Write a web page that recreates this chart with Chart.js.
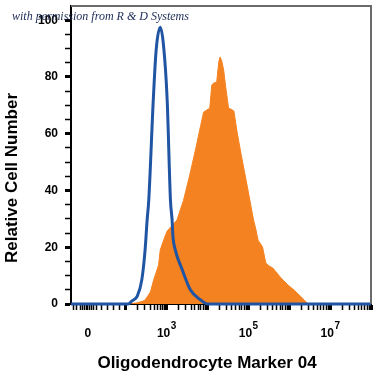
<!DOCTYPE html>
<html>
<head>
<meta charset="utf-8">
<script src="https://cdn.jsdelivr.net/npm/chart.js@4/dist/chart.umd.min.js"></script>
<style>
  html, body { margin: 0; padding: 0; background: #fff; }
  canvas { display: block; }
</style>
</head>
<body>
<canvas id="histo" width="375" height="375"></canvas>
<script>
// x values are in decade units (log10 of intensity), y is relative cell number
var isotypeX = [0.67, 2.07, 2.16, 2.29, 2.40, 2.48, 2.53, 2.57, 2.68, 2.75, 2.85, 2.93, 3.02, 3.10, 3.14, 3.16, 3.22, 3.39, 3.59, 3.84, 4.01, 8.0];
var isotypeY = [0, 0, 1.1, 2.8, 8.5, 19.0, 29.6, 36.6, 71.8, 89.4, 97.5, 91.2, 71.8, 36.6, 29.6, 24.0, 19.0, 12.0, 4.9, 1.4, 0, 0];

var o4X = [2.12, 2.26, 2.41, 2.48, 2.61, 2.69, 2.81, 2.85, 2.95, 3.02, 3.15, 3.26, 3.42, 3.57, 3.71, 3.84, 3.91, 3.98, 4.06, 4.11, 4.15, 4.23, 4.28, 4.31, 4.35, 4.40, 4.45, 4.52, 4.57, 4.65, 4.72, 4.82, 4.98, 5.13, 5.19, 5.24, 5.35, 5.43, 5.51, 5.60, 5.80, 5.97, 6.12, 6.27, 6.37, 6.46];
var o4Y = [0, 0.35, 0.9, 1.4, 4.2, 8.5, 13.7, 19.0, 23.2, 25.7, 27.8, 29.6, 36.6, 45.4, 54.2, 63.0, 67.6, 68.3, 69.0, 77.1, 77.8, 78.2, 85.2, 87.0, 85.9, 82.4, 76.4, 69.0, 68.7, 68.0, 61.3, 53.2, 41.2, 29.6, 26.1, 22.5, 20.1, 14.4, 13.4, 12.7, 9.2, 6.7, 4.9, 2.8, 1.4, 0];

// tick labels: base text and exponent
var xLabelAt = [1.08, 3, 5, 7];
var xLabelBase = ['0', '10', '10', '10'];
var xLabelExp = ['', '3', '5', '7'];
var xMajor = [2, 3, 4, 5, 6, 7, 8];
var xLowTicks = [0.72, 0.8, 0.9, 0.96, 1.0, 1.04, 1.08, 1.12, 1.16, 1.22, 1.3, 1.42, 1.55, 1.7, 1.85];
var minorSteps = [2, 3, 4, 5, 6, 7, 8, 9];

var yLabels = [0, 20, 40, 60, 80, 100];

function toPts(xs, ys) {
  var out = [];
  for (var i = 0; i < xs.length; i++) out.push({x: xs[i], y: ys[i]});
  return out;
}

var xTickVals = xLowTicks.slice();
xMajor.forEach(function(d) {
  xTickVals.push(d);
  if (d < 8) minorSteps.forEach(function(k) { xTickVals.push(d + Math.log10(k)); });
});
xTickVals.sort(function(a, b) { return a - b; });

function isMajorX(v) {
  return xMajor.some(function(m) { return Math.abs(m - v) < 1e-6; });
}

var textFont = 'Arial, "Liberation Sans", "DejaVu Sans", sans-serif';

var decor = {
  id: 'decor',
  afterDraw: function(chart) {
    var c = chart.ctx, a = chart.chartArea, xs = chart.scales.x;
    c.save();
    // top / right frame
    c.strokeStyle = '#6a6a6a';
    c.lineWidth = 2;
    c.beginPath();
    c.moveTo(a.left, a.top);
    c.lineTo(a.right, a.top);
    c.lineTo(a.right, a.bottom);
    c.stroke();

    // x tick labels with superscripts
    c.fillStyle = '#000';
    c.textBaseline = 'alphabetic';
    for (var i = 0; i < xLabelAt.length; i++) {
      var px = xs.getPixelForValue(xLabelAt[i]);
      c.font = 'bold 12px ' + textFont;
      var wb = c.measureText(xLabelBase[i]).width;
      c.font = 'bold 10px ' + textFont;
      var we = xLabelExp[i] ? c.measureText(xLabelExp[i]).width : 0;
      var x0 = px - (wb + we) / 2;
      c.font = 'bold 12px ' + textFont;
      c.textAlign = 'left';
      c.fillText(xLabelBase[i], x0, 337);
      if (xLabelExp[i]) {
        c.font = 'bold 10px ' + textFont;
        c.fillText(xLabelExp[i], x0 + wb + 0.5, 329);
      }
    }

    c.font = 'bold 17px ' + textFont;
    c.textAlign = 'center';
    c.textBaseline = 'middle';
    c.fillText('Oligodendrocyte Marker 04', 207, 363);

    c.translate(12, 178);
    c.rotate(-Math.PI / 2);
    c.fillText('Relative Cell Number', 0, 0);
    c.restore();

    c.save();
    c.fillStyle = '#1c2b55';
    c.font = 'italic 12px "Liberation Serif", "DejaVu Serif", serif';
    c.textAlign = 'left';
    c.textBaseline = 'alphabetic';
    c.fillText('with permission from R & D Systems', 12, 20);
    c.restore();
  }
};

var ctx = document.getElementById('histo');
var chart = new Chart(ctx, {
  type: 'line',
  data: {
    datasets: [
      {
        label: 'Isotype',
        data: toPts(isotypeX, isotypeY),
        borderColor: '#1f55a3',
        borderWidth: 3,
        fill: false,
        pointRadius: 0,
        cubicInterpolationMode: 'monotone',
        clip: false,
        order: 0
      },
      {
        label: 'O4',
        data: toPts(o4X, o4Y),
        borderColor: '#f58220',
        backgroundColor: '#f58220',
        borderWidth: 1,
        fill: 'origin',
        pointRadius: 0,
        tension: 0,
        order: 1
      }
    ]
  },
  options: {
    responsive: false,
    animation: false,
    devicePixelRatio: 1,
    layout: { padding: { left: 0, top: 6, right: 4, bottom: 0 } },
    plugins: { legend: { display: false }, tooltip: { enabled: false } },
    scales: {
      x: {
        type: 'linear',
        min: 0.67,
        max: 8.0,
        afterFit: function(s) {
          s.height = 71;
          s.paddingLeft = 0; s.paddingRight = 0;
        },
        afterBuildTicks: function(s) {
          s.ticks = xTickVals.map(function(v) { return {value: v}; });
        },
        border: { color: '#000', width: 2 },
        grid: {
          drawOnChartArea: false,
          tickLength: 6,
          tickColor: '#000',
          tickWidth: function(c) { return c.tick && isMajorX(c.tick.value) ? 3 : 1.5; }
        },
        ticks: {
          autoSkip: false,
          maxRotation: 0,
          callback: function() { return ''; }
        }
      },
      y: {
        min: 0,
        max: 105,
        afterFit: function(s) {
          s.width = 71;
          s.paddingTop = 0; s.paddingBottom = 0;
        },
        afterBuildTicks: function(s) {
          var t = [];
          for (var v = 0; v <= 100; v += 5) t.push({value: v});
          s.ticks = t;
        },
        border: { color: '#000', width: 2 },
        grid: {
          drawOnChartArea: false,
          tickLength: 6,
          tickColor: '#000',
          tickWidth: function(c) { return c.tick && c.tick.value % 20 === 0 ? 3 : 1.5; }
        },
        ticks: {
          autoSkip: false,
          padding: 7,
          color: '#000',
          font: { family: textFont, size: 12, weight: 'bold' },
          callback: function(v) { return yLabels.indexOf(v) >= 0 ? String(v) : ''; }
        }
      }
    }
  },
  plugins: [decor]
});
</script>
</body>
</html>
